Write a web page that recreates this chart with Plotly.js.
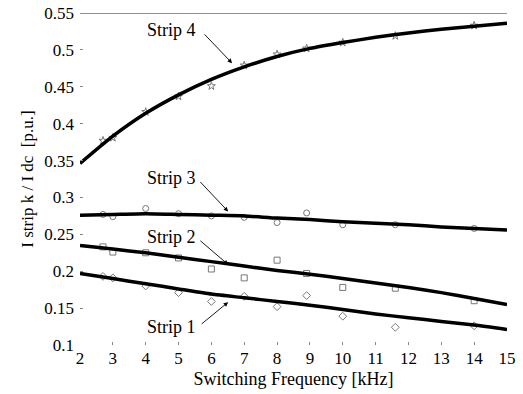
<!DOCTYPE html>
<html>
<head>
<meta charset="utf-8">
<script src="https://cdn.plot.ly/plotly-3.0.1.min.js"></script>
<style>html,body{margin:0;padding:0;background:#fff;}#chart{width:523px;height:394px;}</style>
</head>
<body>
<div id="chart"></div>
<script>
// Fitted curves
const curveX = [2, 3, 4, 5, 6, 7, 8, 9, 10, 11, 12, 13, 14, 15];
const strip4Curve = [0.346, 0.383, 0.414, 0.439, 0.460, 0.477, 0.491, 0.502, 0.510, 0.517, 0.523, 0.528, 0.532, 0.536];
const strip3Curve = [0.276, 0.277, 0.278, 0.277, 0.276, 0.275, 0.272, 0.270, 0.267, 0.265, 0.263, 0.260, 0.258, 0.256];
const strip2Curve = [0.235, 0.230, 0.225, 0.219, 0.213, 0.207, 0.201, 0.196, 0.190, 0.184, 0.178, 0.171, 0.163, 0.155];
const strip1Curve = [0.197, 0.190, 0.183, 0.176, 0.169, 0.164, 0.159, 0.154, 0.148, 0.142, 0.137, 0.132, 0.127, 0.121];

// Measured points
const measX = [2.7, 3, 4, 5, 6, 7, 8, 8.9, 10, 11.6, 14];
const strip4Meas = [0.377, 0.381, 0.416, 0.437, 0.451, 0.479, 0.494, 0.502, 0.510, 0.519, 0.533];
const strip3Meas = [0.277, 0.274, 0.285, 0.278, 0.275, 0.273, 0.266, 0.279, 0.263, 0.263, 0.258];
const strip2Meas = [0.233, 0.226, 0.225, 0.218, 0.203, 0.191, 0.215, 0.197, 0.178, 0.177, 0.160];
const strip1Meas = [0.193, 0.191, 0.180, 0.171, 0.159, 0.166, 0.152, 0.167, 0.139, 0.124, 0.126];

const xTicks = [2, 3, 4, 5, 6, 7, 8, 9, 10, 11, 12, 13, 14, 15];
const yTicks = [0.1, 0.15, 0.2, 0.25, 0.3, 0.35, 0.4, 0.45, 0.5, 0.55];
const yTickText = ["0.1", "0.15", "0.2", "0.25", "0.3", "0.35", "0.4", "0.45", "0.5", "0.55"];

const labels = ["Strip 4", "Strip 3", "Strip 2", "Strip 1"];
const labelX = [4.8, 4.8, 4.8, 4.8];
const labelY = [0.527, 0.326, 0.247, 0.1245];
const tailX = [5.75, 5.62, 5.62, 5.66];
const tailY = [0.523, 0.323, 0.243, 0.127];
const tipX = [6.63, 6.51, 6.51, 6.51];
const tipY = [0.482, 0.281, 0.209, 0.158];

const font = "Liberation Serif, Times New Roman, serif";
const grey = "#888";

function meas(y, sym) {
  return {x: measX, y: y, type: "scatter", mode: "markers",
    marker: {symbol: sym, size: 6, color: "#777", line: {color: "#777", width: 1}},
    hoverinfo: "skip", showlegend: false};
}
function curve(y) {
  return {x: curveX, y: y, type: "scatter", mode: "lines",
    line: {color: "#000", width: 3.5, shape: "spline", smoothing: 0.6},
    showlegend: false};
}

const data = [
  meas(strip4Meas, "star-open"),
  meas(strip3Meas, "circle-open"),
  meas(strip2Meas, "square-open"),
  meas(strip1Meas, "diamond-open"),
  curve(strip4Curve), curve(strip3Curve), curve(strip2Curve), curve(strip1Curve)
];

const annotations = labels.map((t, i) => ({
  x: tipX[i], y: tipY[i], ax: tailX[i], ay: tailY[i],
  xref: "x", yref: "y", axref: "x", ayref: "y",
  text: "", showarrow: true, arrowhead: 2, arrowsize: 1, arrowwidth: 0.9, arrowcolor: "#000"
})).concat(labels.map((t, i) => ({
  x: labelX[i], y: labelY[i], xref: "x", yref: "y", text: t, showarrow: false,
  xanchor: "center", yanchor: "middle", font: {family: font, size: 18, color: "#000"}
})));

const layout = {
  width: 523, height: 394,
  margin: {l: 80, r: 16, t: 13, b: 49},
  paper_bgcolor: "#fff", plot_bgcolor: "#fff",
  font: {family: font, size: 16, color: "#000"},
  xaxis: {
    range: [2, 15], tickvals: xTicks, ticktext: xTicks.map(String),
    ticks: "inside", ticklen: 3, tickcolor: grey, showgrid: false, zeroline: false, showline: false,
    tickfont: {family: font, size: 17}, ticklabelstandoff: 1,
    title: {text: "Switching Frequency [kHz]", font: {family: font, size: 18}, standoff: 5}
  },
  yaxis: {
    range: [0.1, 0.55], tickvals: yTicks, ticktext: yTickText,
    ticks: "inside", ticklen: 3, tickcolor: grey, showgrid: false, zeroline: false, showline: false,
    tickfont: {family: font, size: 17}, ticklabelstandoff: 5,
    title: {text: "I strip k / I dc  [p.u.]", font: {family: font, size: 17}, standoff: 6}
  },
  shapes: [{type: "line", xref: "paper", yref: "y", x0: 0, x1: 1, y0: 0.55, y1: 0.55,
    line: {color: "#222", width: 1.2}}],
  annotations: annotations
};

Plotly.newPlot("chart", data, layout, {displayModeBar: false, staticPlot: true});
</script>
</body>
</html>
